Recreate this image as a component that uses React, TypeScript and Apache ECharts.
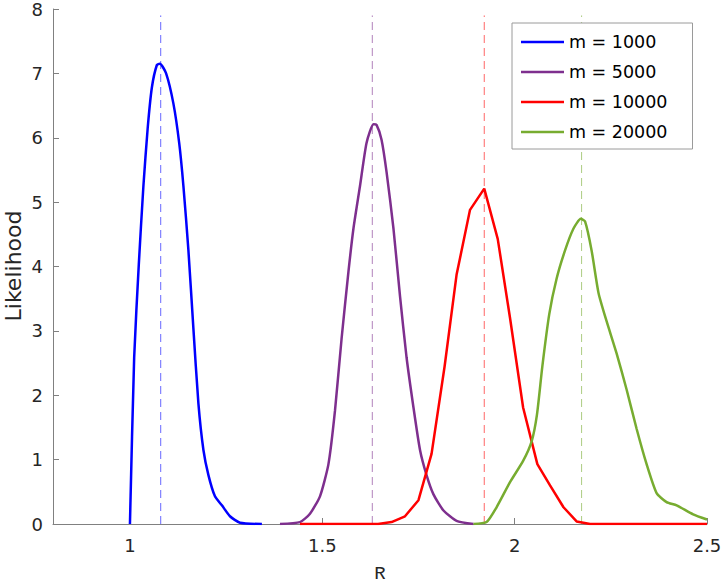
import React, { useEffect, useRef } from "react";
import * as echarts from "echarts";

const seriesNames = ["m = 1000", "m = 5000", "m = 10000", "m = 20000"];
const seriesColors = ["#0000ff", "#7E2F8E", "#ff0000", "#77AC30"];

const blueR = [1.0, 1.011, 1.023, 1.035, 1.046, 1.057, 1.07, 1.078, 1.094, 1.113, 1.128, 1.139, 1.152, 1.165, 1.178, 1.191, 1.204, 1.221, 1.239, 1.26, 1.286, 1.343];
const blueL = [0, 2.59, 4.03, 5.25, 6.14, 6.78, 7.13, 7.15, 7.0, 6.53, 5.92, 5.25, 4.25, 3.03, 1.87, 1.15, 0.76, 0.43, 0.29, 0.12, 0.02, 0];

const purpleR = [1.39, 1.442, 1.468, 1.494, 1.516, 1.533, 1.55, 1.568, 1.581, 1.598, 1.615, 1.633, 1.641, 1.654, 1.667, 1.685, 1.702, 1.719, 1.737, 1.754, 1.771, 1.789, 1.815, 1.849, 1.893];
const purpleL = [0, 0.03, 0.16, 0.43, 0.93, 1.76, 2.87, 3.92, 4.59, 5.25, 5.92, 6.21, 6.2, 5.97, 5.47, 4.59, 3.54, 2.59, 1.81, 1.15, 0.76, 0.46, 0.21, 0.05, 0];

const redR = [1.442, 1.645, 1.68, 1.715, 1.75, 1.784, 1.818, 1.849, 1.884, 1.921, 1.956, 1.988, 2.022, 2.059, 2.092, 2.127, 2.161, 2.196, 2.5];
const redL = [0, 0, 0.03, 0.12, 0.37, 1.09, 2.45, 3.87, 4.88, 5.21, 4.43, 3.2, 1.81, 0.93, 0.6, 0.26, 0.04, 0, 0];

const greenR = [1.893, 1.927, 1.953, 1.988, 2.022, 2.044, 2.058, 2.072, 2.09, 2.109, 2.131, 2.153, 2.172, 2.183, 2.2, 2.218, 2.239, 2.265, 2.291, 2.317, 2.343, 2.369, 2.395, 2.421, 2.464, 2.5];
const greenL = [0, 0.03, 0.26, 0.65, 0.98, 1.28, 1.7, 2.45, 3.26, 3.81, 4.25, 4.59, 4.74, 4.7, 4.25, 3.59, 3.15, 2.65, 2.09, 1.48, 0.93, 0.48, 0.34, 0.29, 0.15, 0.07];

const peakR = [1.08, 1.63, 1.921, 2.174];
const peakLineTop = 7.9;

const xTicks = [1, 1.5, 2, 2.5];
const xTitle = "R";
const yTitle = "Likelihood";

const curvesR = [blueR, purpleR, redR, greenR];
const curvesL = [blueL, purpleL, redL, greenL];
const smoothing = [0.2, 0.2, false, 0.2];

export default function App() {
  const ref = useRef<HTMLDivElement>(null);
  useEffect(() => {
    if (!ref.current) return;
    const chart = echarts.init(ref.current, null, { renderer: "svg" });
    const font = "DejaVu Sans";
    const dashed = peakR.map((r, i) => ({
      name: "peak" + i,
      type: "line",
      data: [[r, 0], [r, peakLineTop]],
      symbol: "none",
      silent: true,
      lineStyle: { color: seriesColors[i], width: 1, type: [8, 5], opacity: 0.6 },
      z: 1,
    }));
    const curves = seriesNames.map((name, i) => ({
      name,
      type: "line",
      data: curvesR[i].map((r, j) => [r, curvesL[i][j]]),
      symbol: "none",
      smooth: smoothing[i],
      lineStyle: { color: seriesColors[i], width: 2.5 },
      itemStyle: { color: seriesColors[i] },
      z: 3,
    }));
    chart.setOption({
      animation: false,
      backgroundColor: "#fff",
      grid: { left: 53, right: 14, top: 9, bottom: 62, containLabel: false, outerBoundsMode: "none" },
      graphic: [
        {
          type: "text",
          x: 13,
          y: 266,
          rotation: Math.PI / 2,
          style: {
            text: yTitle,
            fontFamily: font,
            fontSize: 22,
            fill: "#262626",
            align: "center",
            verticalAlign: "middle",
          },
        },
        {
          type: "text",
          x: 380,
          y: 574,
          style: {
            text: xTitle,
            fontFamily: "Liberation Mono",
            fontSize: 19,
            fill: "#262626",
            align: "center",
            verticalAlign: "middle",
          },
        },
      ],
      legend: {
        data: seriesNames,
        orient: "vertical",
        left: 512,
        top: 23,
        padding: [10, 25, 8, 9],
        icon: "rect",
        itemWidth: 43,
        itemHeight: 2.5,
        itemGap: 12,
        borderColor: "#9a9a9a",
        borderWidth: 1,
        backgroundColor: "#fff",
        textStyle: { fontFamily: font, fontSize: 17.5, color: "#000", lineHeight: 14 },
        selectedMode: false,
      },
      xAxis: {
        type: "value",
        min: 0.8,
        max: 2.5,
        axisLine: { show: true, onZero: false, lineStyle: { color: "#808080", width: 1 } },
        axisTick: { show: true, inside: true, length: 6, customValues: xTicks, lineStyle: { color: "#808080" } },
        axisLabel: { customValues: xTicks, margin: 12, fontFamily: font, fontSize: 18, color: "#262626" },
        splitLine: { show: false },
      },
      yAxis: {
        type: "value",
        min: 0,
        max: 8,
        interval: 1,
        axisLine: { show: true, lineStyle: { color: "#808080", width: 1 } },
        axisTick: { show: true, inside: true, length: 6, lineStyle: { color: "#808080" } },
        axisLabel: { margin: 10, fontFamily: font, fontSize: 18, color: "#262626" },
        splitLine: { show: false },
      },
      series: [...dashed, ...curves],
    });
    return () => chart.dispose();
  }, []);
  return (
    <div
      ref={ref}
      style={{ position: "absolute", left: 0, top: 0, width: 721, height: 586 }}
    />
  );
}
